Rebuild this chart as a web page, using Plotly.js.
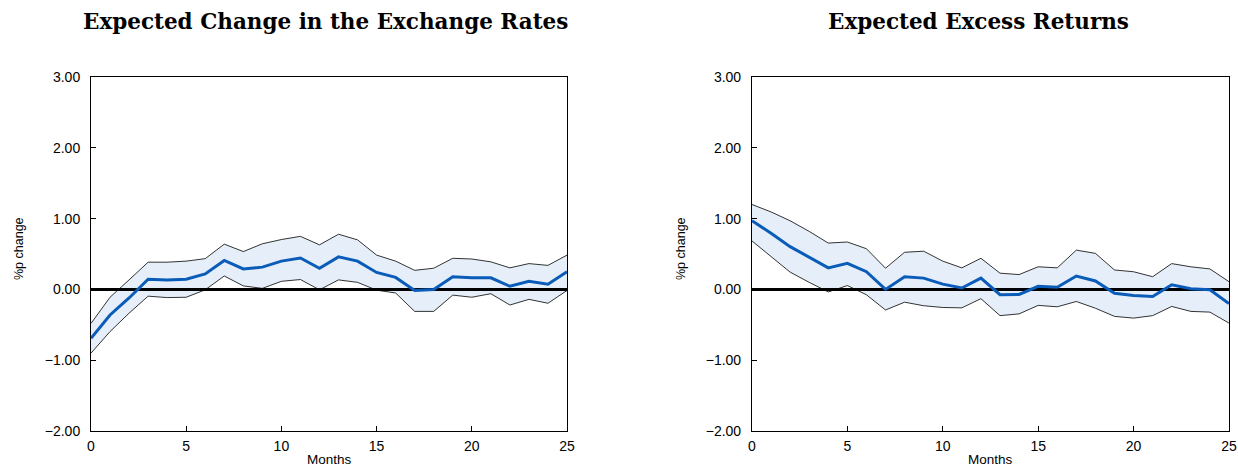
<!DOCTYPE html>
<html><head><meta charset="utf-8">
<script src="https://cdn.plot.ly/plotly-3.0.1.min.js"></script>
<style>html,body{margin:0;padding:0;background:#fff}#c{width:1238px;height:467px}</style>
</head><body><div id="c"></div>
<script>
const months = [0,1,2,3,4,5,6,7,8,9,10,11,12,13,14,15,16,17,18,19,20,21,22,23,24,25];
const titles = ["Expected Change in the Exchange Rates", "Expected Excess Returns"];
const yTickVals = [-2, -1, 0, 1, 2, 3];
const xTickVals = [0, 5, 10, 15, 20, 25];

const fxMean  = [-0.69,-0.36,-0.12,0.145,0.135,0.145,0.22,0.41,0.29,0.315,0.40,0.445,0.30,0.46,0.40,0.24,0.17,-0.015,0.0,0.18,0.165,0.165,0.045,0.115,0.075,0.25];
const fxUpper = [-0.48,-0.11,0.135,0.385,0.385,0.40,0.435,0.64,0.535,0.645,0.705,0.75,0.63,0.78,0.70,0.485,0.40,0.27,0.30,0.44,0.43,0.39,0.305,0.365,0.34,0.485];
const fxLower = [-0.90,-0.595,-0.335,-0.095,-0.115,-0.11,-0.005,0.19,0.05,0.015,0.115,0.14,-0.005,0.135,0.10,-0.01,-0.05,-0.31,-0.31,-0.08,-0.11,-0.06,-0.22,-0.14,-0.195,-0.015];

const erMean  = [0.97,0.795,0.605,0.455,0.305,0.37,0.25,0.0,0.18,0.16,0.075,0.02,0.16,-0.075,-0.07,0.045,0.03,0.19,0.12,-0.055,-0.085,-0.10,0.065,0.01,-0.005,-0.20];
const erUpper = [1.20,1.095,0.97,0.82,0.655,0.67,0.575,0.30,0.525,0.54,0.40,0.305,0.44,0.23,0.21,0.32,0.305,0.555,0.51,0.275,0.25,0.18,0.365,0.32,0.29,0.11];
const erLower = [0.685,0.465,0.245,0.10,-0.035,0.055,-0.075,-0.29,-0.18,-0.23,-0.255,-0.26,-0.13,-0.37,-0.345,-0.225,-0.245,-0.17,-0.265,-0.38,-0.405,-0.37,-0.24,-0.31,-0.32,-0.475];

const bandFill = 'rgba(226,236,248,0.85)';
const blue = '#0a5cb8';

function panel(xa, ya, mean, up, lo) {
  return [
    {x: months, y: lo, xaxis: xa, yaxis: ya, mode: 'lines', line: {color: '#000', width: 0.8}, hoverinfo: 'skip'},
    {x: months, y: up, xaxis: xa, yaxis: ya, mode: 'lines', fill: 'tonexty', fillcolor: bandFill, line: {color: '#000', width: 0.8}, hoverinfo: 'skip'},
    {x: [months[0], months[months.length-1]], y: [0, 0], xaxis: xa, yaxis: ya, mode: 'lines', line: {color: '#000', width: 3}, hoverinfo: 'skip'},
    {x: months, y: mean, xaxis: xa, yaxis: ya, mode: 'lines', line: {color: blue, width: 3}, hoverinfo: 'skip'}
  ];
}

const data = panel('x', 'y', fxMean, fxUpper, fxLower).concat(panel('x2', 'y2', erMean, erUpper, erLower));

const tickFont = {family: 'Liberation Sans, Arial, sans-serif', size: 14, color: '#000'};
function xax(dom, anchor) {
  return {domain: dom, anchor: anchor, range: [0, 25], tickvals: xTickVals, ticks: 'inside', ticklen: 5, tickcolor: '#000',
    ticklabelstandoff: 2,
    showline: true, linecolor: '#000', linewidth: 1, mirror: true, showgrid: false, zeroline: false, tickfont: tickFont, fixedrange: true};
}
function yax(anchor) {
  return {domain: [0.077, 0.835], anchor: anchor, range: [-2, 3], tickvals: yTickVals, tickformat: '.2f', ticks: 'inside', ticklen: 5, tickcolor: '#000',
    ticklabelstandoff: 7,
    showline: true, linecolor: '#000', linewidth: 1, mirror: true, showgrid: false, zeroline: false, tickfont: tickFont, fixedrange: true};
}

const titleFont = {family: 'DejaVu Serif, serif', size: 21.5, color: '#000', weight: 'bold'};
const monthsFont = {family: 'Liberation Sans, Arial, sans-serif', size: 13.5, color: '#000'};
const yLabFont = {family: 'Liberation Sans, Arial, sans-serif', size: 12.5, color: '#000'};

const layout = {
  width: 1238, height: 467,
  margin: {l: 0, r: 0, t: 0, b: 0},
  paper_bgcolor: '#fff', plot_bgcolor: '#fff',
  showlegend: false,
  xaxis: xax([0.0735, 0.458], 'y'),
  yaxis: yax('x'),
  xaxis2: xax([0.6074, 0.9927], 'y2'),
  yaxis2: yax('x2'),
  annotations: [
    {text: '<b>' + titles[0] + '</b>', xref: 'paper', yref: 'paper', x: 325/1238, y: 1 - 21/467, xanchor: 'center', yanchor: 'middle', showarrow: false, font: titleFont},
    {text: '<b>' + titles[1] + '</b>', xref: 'paper', yref: 'paper', x: 979/1238, y: 1 - 21/467, xanchor: 'center', yanchor: 'middle', showarrow: false, font: titleFont},
    {text: 'Months', xref: 'paper', yref: 'paper', x: 329/1238, y: 1 - 459.5/467, xanchor: 'center', yanchor: 'middle', showarrow: false, font: monthsFont},
    {text: 'Months', xref: 'paper', yref: 'paper', x: 990/1238, y: 1 - 459.5/467, xanchor: 'center', yanchor: 'middle', showarrow: false, font: monthsFont},
    {text: '%p change', xref: 'paper', yref: 'paper', x: 19/1238, y: 1 - 249/467, xanchor: 'center', yanchor: 'middle', textangle: -90, showarrow: false, font: yLabFont},
    {text: '%p change', xref: 'paper', yref: 'paper', x: 681/1238, y: 1 - 249/467, xanchor: 'center', yanchor: 'middle', textangle: -90, showarrow: false, font: yLabFont}
  ]
};

Plotly.newPlot('c', data, layout, {staticPlot: true, displayModeBar: false});
</script></body></html>
